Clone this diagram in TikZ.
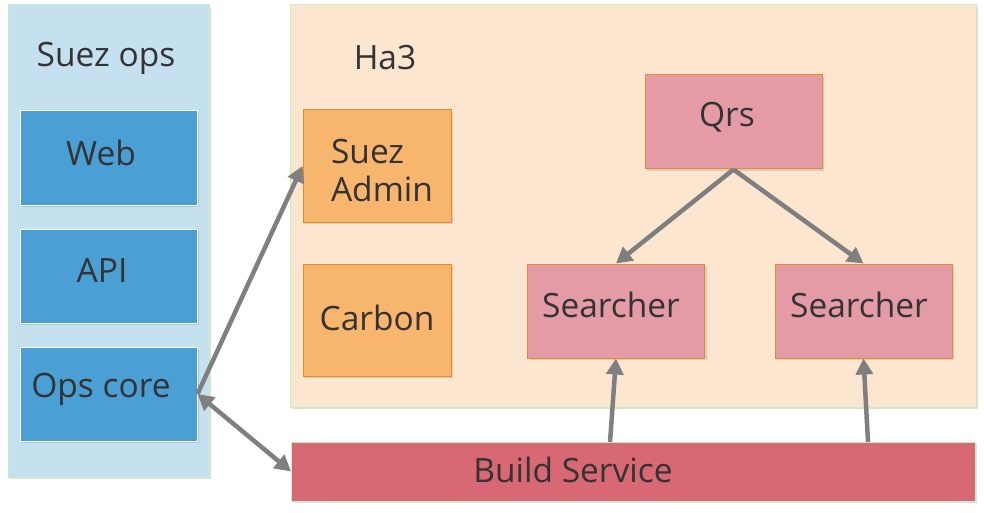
\documentclass[tikz,border=0pt]{standalone}
\usepackage{fontspec}
\setmainfont{Open Sans}
\usepackage{tikz}
\usetikzlibrary{arrows.meta,shadows}
\definecolor{opsbg}{HTML}{C5E1EF}
\definecolor{opsbox}{HTML}{4A9FD5}
\definecolor{habg}{HTML}{FDE6D0}
\definecolor{orbox}{HTML}{F8B56D}
\definecolor{orline}{HTML}{E8892B}
\definecolor{pkbox}{HTML}{E49BA5}
\definecolor{buildbg}{HTML}{D96875}
\definecolor{frame}{HTML}{C6EEC6}
\definecolor{txt}{HTML}{333333}
\definecolor{pfeil}{HTML}{7F7F7F}

\begin{document}
\begin{tikzpicture}[x=1pt, y=-1pt,
  font=\fontsize{33.5}{38}\selectfont, text=txt,
  schatten/.style={drop shadow={shadow xshift=2pt, shadow yshift=-2pt, opacity=0.25, fill=black!50}},
  panel/.style={draw=frame, line width=1pt, schatten},
  opsbox/.style={draw=white, line width=1pt, fill=opsbox, minimum width=177pt, minimum height=94pt, inner sep=0pt, schatten},
  orbox/.style={draw=orline, line width=1pt, fill=orbox, minimum width=148pt, minimum height=112pt, inner sep=0pt, schatten},
  pkbox/.style={draw=orline, line width=1pt, fill=pkbox, minimum width=177pt, minimum height=94pt, inner sep=0pt, schatten},
  pfeil/.style={draw=pfeil, line width=4.5pt, -{Triangle[length=16pt, width=17pt]}}
  ]
	\useasboundingbox (0,0) rectangle (984,513);

	%Bereiche
		\draw[panel, fill=opsbg] (8,5) rectangle (209,477);
		\draw[panel, fill=habg] (290,5) rectangle (976,407);
		\node (opstitel) at (106,58) {Suez ops};
		\node (hatitel) at (385,58) {Ha3};

	%Suez ops
		\node[opsbox] (web) at (108.5,158) {};
		\node (weblbl) at (101,153) {Web};
		\node[opsbox] (api) at (108.5,276) {};
		\node (apilbl) at (102,270) {API};
		\node[opsbox] (ops) at (108.5,394) {};
		\node (opslbl) at (101,389) {Ops core};

	%Ha3
		\node[orbox] (admin) at (377,166) {};
		\node[align=left] (adminlbl) at (382,171) {Suez\\Admin};
		\node[orbox] (carbon) at (377,320) {};
		\node (carbonlbl) at (377,318) {Carbon};
		\node[pkbox] (qrs) at (733.5,122) {};
		\node (qrslbl) at (727,117) {Qrs};
		\node[pkbox] (s1) at (616,311) {};
		\node (s1lbl) at (611,305) {Searcher};
		\node[pkbox] (s2) at (863.5,311) {};
		\node (s2lbl) at (859,305) {Searcher};

	%Build Service
		\draw[panel, fill=buildbg] (291,442) rectangle (975,501);
		\coordinate (build) at (291,471.5);
		\node (buildlbl) at (573,470) {Build Service};
		\coordinate (b1) at (610,442);
		\coordinate (b2) at (868,442);

	%Pfeile
		\draw[pfeil] (ops.east) -- (admin.west);
		\draw[pfeil, {Triangle[length=16pt, width=17pt]}-{Triangle[length=16pt, width=17pt]}] (ops.east) -- (build);
		\draw[pfeil] (qrs.south) -- (s1.north);
		\draw[pfeil] (qrs.south) -- (s2.north);
		\draw[pfeil] (b1) -- (s1.south);
		\draw[pfeil] (b2) -- (s2.south);
\end{tikzpicture}
\end{document}
